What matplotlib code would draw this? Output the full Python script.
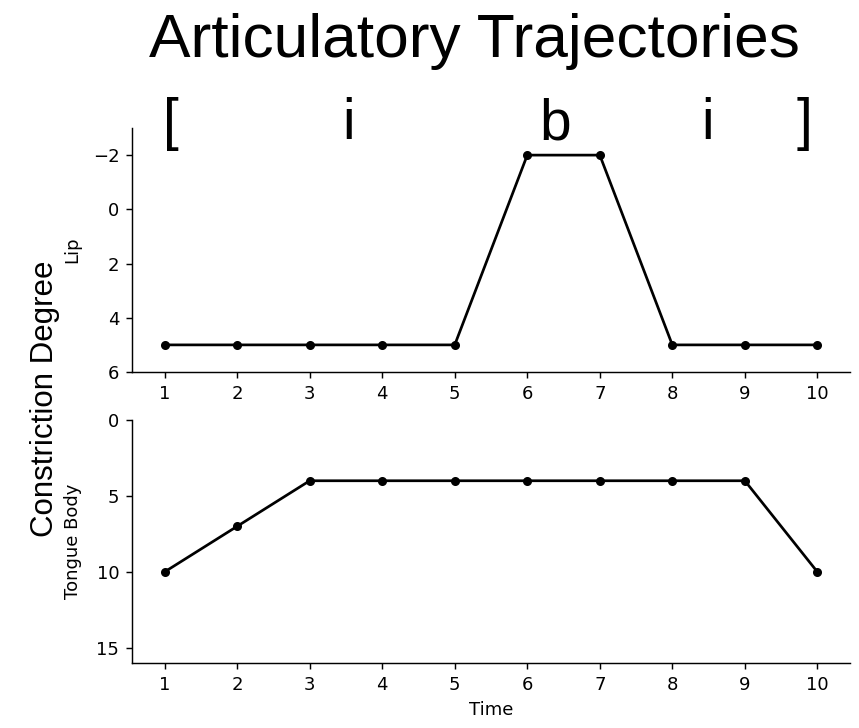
import matplotlib
matplotlib.use("Agg")
import matplotlib.pyplot as plt

# time steps and constriction degree for each articulator
time = [1, 2, 3, 4, 5, 6, 7, 8, 9, 10]
lip = [5, 5, 5, 5, 5, -2, -2, 5, 5, 5]
tongue_body = [10, 7, 4, 4, 4, 4, 4, 4, 4, 10]

segments = ["[", "i", "b", "i", "]"]
seg_x = [171, 348.5, 555, 708, 804]  # pixel centres across the figure

W, H = 859, 728
fig = plt.figure(figsize=(W / 130, H / 130), dpi=130)

ax1 = fig.add_axes([132 / W, 1 - 372 / H, 718 / W, 244 / H])
ax2 = fig.add_axes([132 / W, 1 - 663 / H, 718 / W, 243 / H])

ax1.plot(time, lip, color="black", marker="o", markersize=4, lw=1.5)
ax1.set_ylim(6, -3)
ax1.set_yticks([-2, 0, 2, 4, 6])
ax1.set_ylabel("Lip")

ax2.plot(time, tongue_body, color="black", marker="o", markersize=4, lw=1.5)
ax2.set_ylim(16, 0)
ax2.set_yticks([0, 5, 10, 15])
ax2.set_ylabel("Tongue Body")
ax2.set_xlabel("Time")

for ax in (ax1, ax2):
    ax.set_xticks(time)
    ax.spines["top"].set_visible(False)
    ax.spines["right"].set_visible(False)
    ax.yaxis.set_label_coords(-0.07, 0.5)

fig.text(474.5 / W, 1 - 57 / H, "Articulatory Trajectories", family="Liberation Sans",
         fontsize=34.5, ha="center", va="baseline")

for s, x in zip(segments, seg_x):
    fig.text(x / W, 1 - 139 / H, s, family="Liberation Sans", fontsize=31.5,
             ha="center", va="baseline")

fig.text(45 / W, 1 - 399 / H, "Constriction Degree", family="Liberation Sans",
         fontsize=17.3, rotation=90, ha="center", va="center")

plt.savefig("out.png", dpi=130)
